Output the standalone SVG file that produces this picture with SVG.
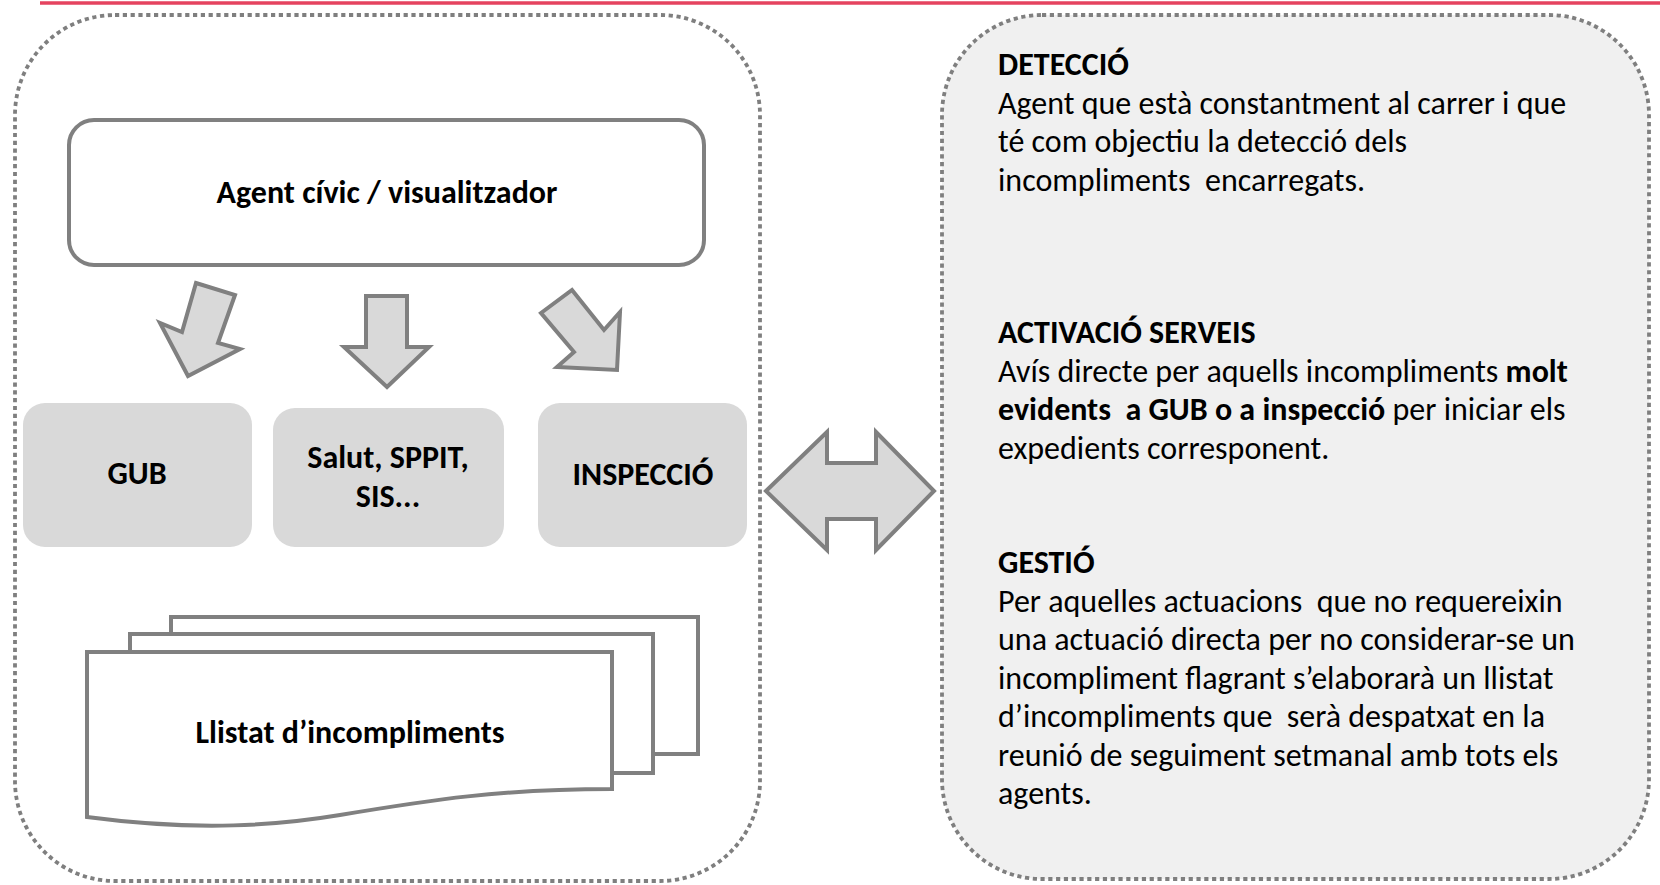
<svg xmlns="http://www.w3.org/2000/svg" width="1660" height="885" viewBox="0 0 1660 885">
<style>
.dot{fill:none;stroke:#7f7f7f;stroke-width:3.8;stroke-dasharray:4.2 3.6}
.arr{fill:#d9d9d9;stroke:#808080;stroke-width:4;stroke-linejoin:miter}
.svc{fill:#d9d9d9;stroke:none}
.pg{fill:#ffffff;stroke:#808080;stroke-width:4;stroke-linejoin:miter}
.t{font-family:Carlito,Lato,"Liberation Sans",sans-serif;font-size:32px;fill:#000000;white-space:pre}
.b{font-weight:bold}
.c{text-anchor:middle}
</style>
<rect width="1660" height="885" fill="#ffffff"/>
<line x1="40" y1="3" x2="1660" y2="3" stroke="#e5435f" stroke-width="3.5"/>

<g id="left-panel">
<rect class="dot" x="15" y="15" width="745" height="866" rx="100" ry="100"/>
</g>
<g id="right-panel">
<rect class="dot" x="942" y="15" width="707" height="864" rx="100" ry="100" style="fill:#f0f0f0"/>
</g>

<g id="agent">
<rect x="69" y="120" width="635" height="145" rx="25" ry="25" fill="#ffffff" stroke="#808080" stroke-width="4"/>
<text class="t b c" x="387" y="203">Agent cívic / visualitzador</text>
</g>

<g id="connectors">
<polygon class="arr" points="196,283 235,295 218,343 240,349 188,376 160,323 182,332"/>
<polygon class="arr" points="366,296 407,296 407,347 429,347 387,387 344,347 366,347"/>
<polygon class="arr" points="541,313 572,290 604,330 620,312 617,370 557,367 574,352"/>
<polygon class="arr" points="766,491 827,432 827,463 876,463 876,432 934,491 876,550 876,519 827,519 827,550"/>
</g>

<g id="gub">
<rect class="svc" x="23" y="403" width="229" height="144" rx="22" ry="22"/>
<text class="t b c" x="137" y="484">GUB</text>
</g>
<g id="salut">
<rect class="svc" x="273" y="408" width="231" height="139" rx="22" ry="22"/>
<text class="t b c" x="388" y="468">Salut, SPPIT,</text>
<text class="t b c" x="388" y="507">SIS...</text>
</g>
<g id="inspeccio">
<rect class="svc" x="538" y="403" width="209" height="144" rx="22" ry="22"/>
<text class="t b c" x="643" y="485">INSPECCIÓ</text>
</g>

<g id="llistat">
<rect class="pg" x="171" y="617" width="527" height="137"/>
<rect class="pg" x="130" y="634" width="523" height="139"/>
<path class="pg" d="M87,652 H612 V789 C500,789 430,800 340,815 C280,825 200,832 87,817 Z"/>
<text class="t b c" x="350" y="743">Llistat d’incompliments</text>
</g>

<g id="descripcio">
<text class="t b" x="998" y="75">DETECCIÓ</text>
<text class="t" x="998" y="113.5">Agent que està constantment al carrer i que</text>
<text class="t" x="998" y="152">té com objectiu la detecció dels</text>
<text class="t" x="998" y="190.5">incompliments  encarregats.</text>

<text class="t b" x="998" y="343">ACTIVACIÓ SERVEIS</text>
<text class="t" x="998" y="381.5">Avís directe per aquells incompliments <tspan class="b">molt</tspan></text>
<text class="t" x="998" y="420"><tspan class="b">evidents  a GUB o a inspecció</tspan> per iniciar els</text>
<text class="t" x="998" y="458.5">expedients corresponent.</text>

<text class="t b" x="998" y="573">GESTIÓ</text>
<text class="t" x="998" y="611.5">Per aquelles actuacions  que no requereixin</text>
<text class="t" x="998" y="650">una actuació directa per no considerar-se un</text>
<text class="t" x="998" y="688.5">incompliment flagrant s’elaborarà un llistat</text>
<text class="t" x="998" y="727">d’incompliments que  serà despatxat en la</text>
<text class="t" x="998" y="765.5">reunió de seguiment setmanal amb tots els</text>
<text class="t" x="998" y="804">agents.</text>
</g>
</svg>
